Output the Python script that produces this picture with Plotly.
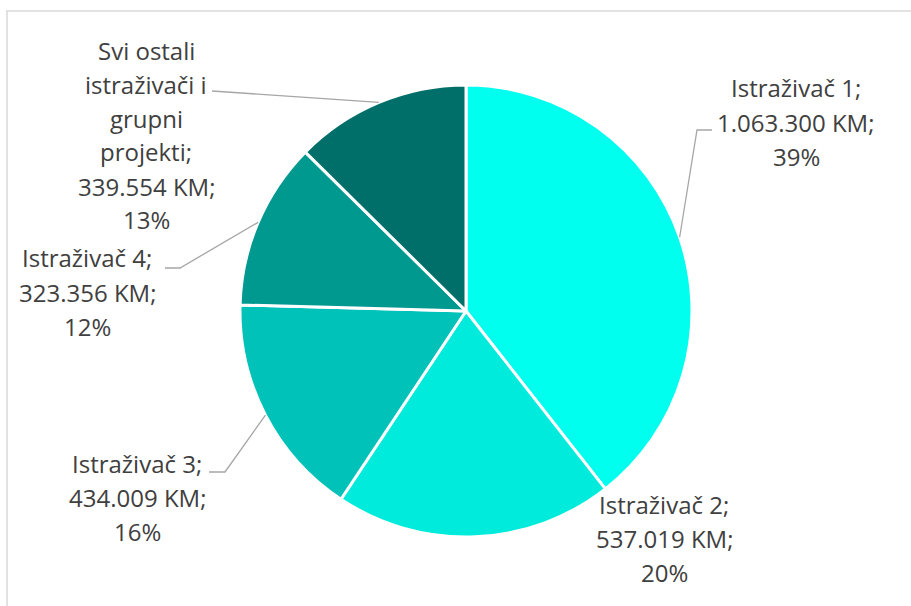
import math
import plotly.graph_objects as go

# ---- data ----
categories = ["Istraživač 1", "Istraživač 2", "Istraživač 3", "Istraživač 4",
              "Svi ostali istraživači i grupni projekti"]
label_lines = [["Istraživač 1;"], ["Istraživač 2;"], ["Istraživač 3;"], ["Istraživač 4;"],
               ["Svi ostali", "istraživači i", "grupni", "projekti;"]]
values = [1063300, 537019, 434009, 323356, 339554]
colors = ["#00FFEE", "#00EBDC", "#00C2B9", "#009990", "#006F69"]

# ---- layout (pixels) ----
W, H = 911, 606
CX, CY, R = 466, 311, 226
# label centre x, first line y
label_pos = [(796, 88), (664, 504), (137, 463), (87, 258), (146, 50)]
line_gap = 34
# leader elbow / end points (None = no leader)
leader_pts = [((697, 130), (712, 130)), None, ((225, 472), (209, 472)),
              ((180, 268), (165, 268)), ((212, 91), (212, 91))]


def px(x):
    return x / W


def py(y):
    return 1 - y / H


fig = go.Figure(go.Pie(
    labels=categories, values=values, sort=False, direction="clockwise",
    rotation=0, marker=dict(colors=colors, line=dict(color="white", width=3)),
    textinfo="none", hoverinfo="label+value+percent",
    domain=dict(x=[px(CX - R), px(CX + R)], y=[py(CY + R), py(CY - R)]),
))

total = sum(values)
annotations = []
shapes = []
cum = 0
for i, v in enumerate(values):
    pct = round(v / total * 100)
    lines = label_lines[i] + [f"{v:,}".replace(",", ".") + " KM;", f"{pct}%"]
    lx, ly = label_pos[i]
    for j, t in enumerate(lines):
        annotations.append(dict(
            x=px(lx), y=py(ly + j * line_gap), xref="paper", yref="paper",
            text=t, showarrow=False, xanchor="center", yanchor="middle",
            font=dict(family="Open Sans", size=24, color="#404040")))
    mid = (cum + v / 2) / total * 2 * math.pi
    cum += v
    if leader_pts[i] is not None:
        sx = CX + R * math.sin(mid)
        sy = CY - R * math.cos(mid)
        (ex, ey), (fx, fy) = leader_pts[i]
        path = f"M {px(sx)},{py(sy)} L {px(ex)},{py(ey)} L {px(fx)},{py(fy)}"
        shapes.append(dict(type="path", xref="paper", yref="paper", path=path,
                           line=dict(color="#A6A6A6", width=1.3)))

# chart frame
shapes.append(dict(type="rect", xref="paper", yref="paper",
                   x0=px(7), x1=1.05, y0=-0.05, y1=py(11),
                   line=dict(color="#D9D9D9", width=1.5)))

fig.update_layout(
    width=W, height=H, margin=dict(l=0, r=0, t=0, b=0),
    paper_bgcolor="white", plot_bgcolor="white", showlegend=False,
    annotations=annotations, shapes=shapes,
)
fig.write_html("out.html", config={"displayModeBar": False},
               post_script="document.body.style.margin='0';document.body.style.overflow='hidden';")
